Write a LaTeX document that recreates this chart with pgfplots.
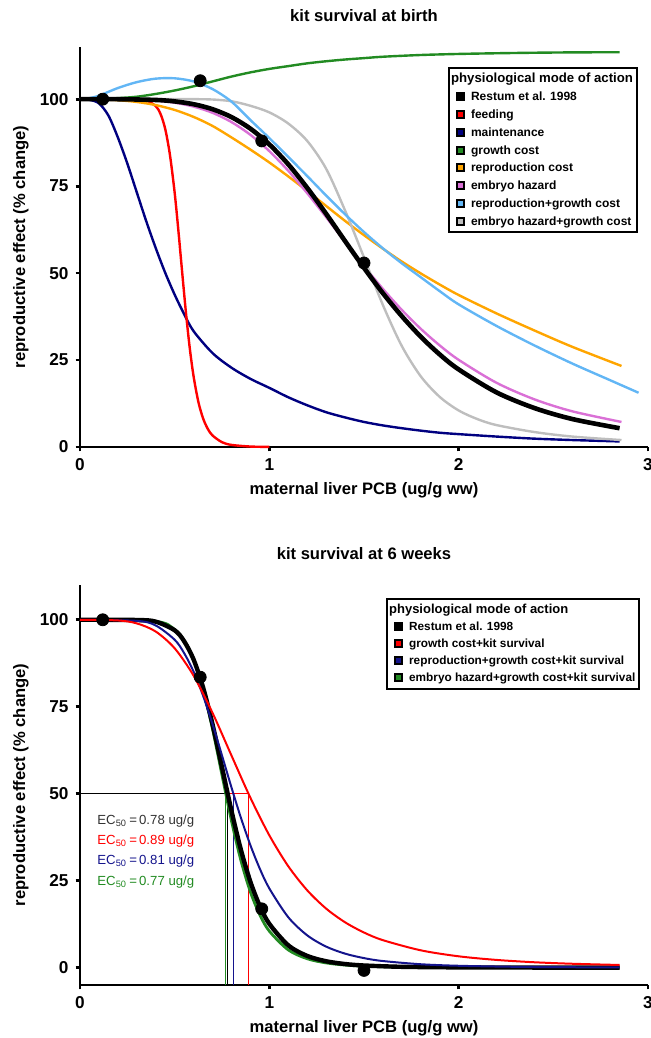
\documentclass[border=0pt]{standalone}
\usepackage{pgfplots}
\pgfplotsset{compat=1.18}
\usepackage{fontspec}
\setmainfont{Liberation Sans}

\definecolor{cfeed}{RGB}{255,0,0}
\definecolor{cmaint}{RGB}{0,0,128}
\definecolor{cgrowth}{RGB}{34,139,34}
\definecolor{crepro}{RGB}{255,165,0}
\definecolor{cembryo}{RGB}{218,112,214}
\definecolor{crg}{RGB}{98,182,245}
\definecolor{ceg}{RGB}{190,190,190}
\definecolor{cnavy}{RGB}{20,20,140}
\definecolor{cdark}{RGB}{50,50,50}

\pgfplotsset{
  sq/.style={legend image code/.code={\path (0pt,0pt) (8pt,0pt);\fill[##1] (2.6pt,-1.75pt) rectangle (6.1pt,1.75pt);}},
  gp/.style={
    scale only axis, width=284pt, height=200pt,
    xmin=0, xmax=3, xtick={0,1,2,3},
    ytick={0,25,50,75,100},
    axis x line*=bottom, axis y line*=left,
    axis line style={line width=1.4pt},
    tick style={black, line width=1.4pt},
    tick align=outside, major tick length=2.2pt,
    /pgf/number format/assume math mode=true,
    tick label style={font=\bfseries\fontsize{8.6}{10}\selectfont},
    label style={font=\bfseries\fontsize{8.3}{10}\selectfont},
    title style={font=\bfseries\fontsize{8.3}{10}\selectfont, at={(axis description cs:0.5,1.048)}, anchor=center},
    xlabel style={at={(axis description cs:0.5,-0.108)}, anchor=center},
    ylabel style={at={(axis description cs:-0.104,0.5)}, anchor=center},
    xlabel={maternal liver PCB (ug/g ww)},
    ylabel={reproductive effect (\% change)},
    clip=false,
    legend cell align=left,
  },
}

\begin{document}
\begin{tikzpicture}

% ---------- kit survival at birth ----------
\begin{axis}[gp, ymin=0, ymax=115, title={kit survival at birth},
  legend style={at={(0.648,0.95)}, anchor=north west, draw=black, line width=1pt, inner sep=1pt,
    font=\bfseries\fontsize{6}{7}\selectfont, row sep=0pt,
    nodes={inner xsep=1pt, inner ysep=1pt, text height=5.45pt, text depth=1.45pt}}]

% maintenance
\addplot[cmaint, line width=1.2pt, smooth, forget plot] coordinates {
(0,100) (0.05,99.8) (0.1,98.8) (0.15,95.3) (0.2,89.0) (0.25,81.5) (0.3,73.2) (0.35,64.9)
(0.4,57.2) (0.45,50.1) (0.5,43.8) (0.55,38.2) (0.6,33.3) (0.7,27.0) (0.8,22.8) (0.9,19.6)
(1.0,17.0) (1.1,14.3) (1.2,12.0) (1.3,10.0) (1.4,8.5) (1.5,7.2) (1.6,6.2) (1.7,5.4)
(1.8,4.7) (1.9,4.1) (2.0,3.7) (2.2,3.0) (2.4,2.4) (2.6,2.0) (2.85,1.6)};
% feeding
\addplot[cfeed, line width=1.2pt, smooth, forget plot] coordinates {
(0,100) (0.3,99.95) (0.35,99.65) (0.4,98.0) (0.425,95.8) (0.45,91.45) (0.475,84.0) (0.5,73.1)
(0.52,62.0) (0.54,50) (0.56,38.4) (0.58,28.3) (0.6,20.3) (0.625,13.0) (0.65,8.24) (0.675,5.2)
(0.7,3.31) (0.75,1.38) (0.8,0.6) (0.9,0.13) (1.0,0.03)};
% growth cost
\addplot[cgrowth, line width=1.2pt, smooth, forget plot] coordinates {
(0,100) (0.1,100.05) (0.2,100.3) (0.3,100.7) (0.4,101.5) (0.5,102.5) (0.6,103.7) (0.7,105.1)
(0.8,106.5) (0.9,107.7) (1.0,108.7) (1.1,109.5) (1.2,110.3) (1.3,110.9) (1.4,111.4) (1.5,111.8)
(1.6,112.2) (1.8,112.7) (2.0,113.0) (2.2,113.2) (2.4,113.35) (2.6,113.45) (2.85,113.5)};
% reproduction cost
\addplot[crepro, line width=1.2pt, smooth, forget plot] coordinates {
(0,100) (0.1,99.95) (0.2,99.7) (0.3,99.2) (0.4,98.3) (0.5,96.9) (0.6,94.9) (0.7,92.3)
(0.8,89.0) (0.9,85.5) (1.0,81.8) (1.1,77.8) (1.2,73.6) (1.3,69.3) (1.4,65.0) (1.5,60.9)
(1.6,57.0) (1.7,53.3) (1.8,49.9) (1.9,46.7) (2.0,43.7) (2.2,38.4) (2.4,33.5) (2.6,28.8) (2.86,23.3)};
% embryo hazard
\addplot[cembryo, line width=1.2pt, smooth, forget plot] coordinates {
(0,100) (0.2,99.98) (0.4,99.59) (0.5,98.98) (0.6,97.87) (0.7,96.08) (0.8,93.41) (0.9,89.75)
(1.0,85.06) (1.1,79.41) (1.2,72.98) (1.3,66.08) (1.4,58.98) (1.5,52.03) (1.6,45.44) (1.7,39.39)
(1.8,33.97) (1.9,29.2) (2.0,25.06) (2.2,18.46) (2.4,13.7) (2.6,10.26) (2.86,7.2)};
% embryo hazard+growth cost
\addplot[ceg, line width=1.2pt, smooth, forget plot] coordinates {
(0,100) (0.4,100) (0.6,100) (0.7,99.9) (0.8,99.4) (0.9,98.1) (1.0,96.2) (1.1,93.0)
(1.2,88.0) (1.3,80.0) (1.4,68.0) (1.5,54.5) (1.6,40.8) (1.7,29.0) (1.8,20.3) (1.9,14.4)
(2.0,10.5) (2.1,8.0) (2.2,6.3) (2.4,4.3) (2.6,3.0) (2.86,2.0)};
% reproduction+growth cost
\addplot[crg, line width=1.2pt, smooth, forget plot] coordinates {
(0,100) (0.05,100.3) (0.1,101.0) (0.2,103.2) (0.3,104.9) (0.4,105.9) (0.5,106.0) (0.6,105.1)
(0.7,102.9) (0.8,99.3) (0.9,94.0) (1.0,88.8) (1.1,83.4) (1.2,77.9) (1.3,72.3) (1.4,66.9)
(1.5,61.8) (1.6,57.1) (1.7,52.8) (1.8,48.8) (1.9,44.8) (2.0,41.0) (2.2,34.8) (2.4,29.2)
(2.6,24.0) (2.8,19.2) (2.95,15.6)};
% Restum et al. 1998
\addplot[black, line width=2.3pt, smooth, forget plot] coordinates {
(0,100) (0.2,99.99) (0.4,99.77) (0.5,99.36) (0.6,98.55) (0.7,97.12) (0.8,94.85) (0.9,91.52)
(1.0,87.0) (1.1,81.27) (1.2,74.5) (1.3,67.04) (1.4,59.2) (1.5,51.5) (1.6,44.2) (1.7,37.6)
(1.8,31.7) (1.9,26.6) (2.0,22.3) (2.2,15.7) (2.4,11.2) (2.6,8.04) (2.85,5.4)};
\addplot[only marks, mark=*, mark size=3pt, black, forget plot] coordinates {
(0.12,100) (0.635,105.3) (0.96,88.0) (1.5,52.9)};

\addlegendimage{empty legend}
\addlegendentry{\hspace{-10pt}\fontsize{6.6}{7}\selectfont physiological mode of action}
\addlegendimage{sq, fill=black}\addlegendentry{Restum et al. 1998}
\addlegendimage{sq, fill=cfeed}\addlegendentry{feeding}
\addlegendimage{sq, fill=cmaint}\addlegendentry{maintenance}
\addlegendimage{sq, fill=cgrowth}\addlegendentry{growth cost}
\addlegendimage{sq, fill=crepro}\addlegendentry{reproduction cost}
\addlegendimage{sq, fill=cembryo}\addlegendentry{embryo hazard}
\addlegendimage{sq, fill=crg}\addlegendentry{reproduction+growth cost}
\addlegendimage{sq, fill=ceg}\addlegendentry{embryo hazard+growth cost}
\end{axis}

% ---------- kit survival at 6 weeks ----------
\begin{axis}[gp, at={(0pt,-269pt)}, ymin=-5, ymax=110, title={kit survival at 6 weeks},
  legend style={at={(0.539,0.9675)}, anchor=north west, draw=black, line width=1pt, inner sep=1pt,
    font=\bfseries\fontsize{5.9}{7}\selectfont, row sep=0pt,
    nodes={inner xsep=1pt, inner ysep=1pt, text height=5.2pt, text depth=1.35pt}}]

% EC50 guide lines
\addplot[black, line width=0.6pt, forget plot] coordinates {(0,50) (0.78,50)};
\addplot[cfeed, line width=0.6pt, forget plot] coordinates {(0.77,50) (0.89,50)};
\addplot[cgrowth, line width=0.6pt, forget plot] coordinates {(0.77,-5) (0.77,50)};
\addplot[black, line width=0.6pt, forget plot] coordinates {(0.78,-5) (0.78,50)};
\addplot[cnavy, line width=0.6pt, forget plot] coordinates {(0.81,-5) (0.81,50)};
\addplot[cfeed, line width=0.6pt, forget plot] coordinates {(0.89,-5) (0.89,50)};

% embryo hazard+growth cost+kit survival
\addplot[cgrowth, line width=1.4pt, smooth, forget plot] coordinates {
(0,100) (0.4,99.54) (0.5,97.18) (0.55,94.04) (0.6,88.55) (0.65,80.04) (0.7,68.6) (0.75,55.37)
(0.8,42.21) (0.85,30.78) (0.9,21.77) (0.95,15.15) (1.0,10.49) (1.1,5.09) (1.2,2.56) (1.3,1.35)
(1.4,0.74) (1.5,0.42) (1.7,0.15) (2.0,0.04) (2.85,0)};
% Restum et al. 1998
\addplot[black, line width=2.2pt, smooth, forget plot] coordinates {
(0,100) (0.3,99.94) (0.4,99.46) (0.5,96.98) (0.55,93.84) (0.6,88.57) (0.65,80.57) (0.7,69.93)
(0.75,57.59) (0.8,45.08) (0.85,33.85) (0.9,24.67) (0.95,17.68) (1.0,12.58) (1.1,6.41) (1.2,3.36)
(1.3,1.83) (1.4,1.03) (1.5,0.61) (1.7,0.23) (2.0,0.07) (2.5,0.01) (2.85,0)};
% reproduction+growth cost+kit survival
\addplot[cnavy, line width=1pt, smooth, forget plot] coordinates {
(0,100) (0.3,99.69) (0.4,98.36) (0.5,94.26) (0.55,90.42) (0.6,85.08) (0.65,78.18) (0.7,69.99)
(0.75,60.98) (0.8,51.8) (0.85,43.05) (0.9,35.19) (0.95,28.4) (1.0,22.76) (1.1,14.49) (1.2,9.28)
(1.3,6.04) (1.4,4.02) (1.5,2.73) (1.6,1.89) (1.8,0.97) (2.0,0.53) (2.3,0.23) (2.6,0.11) (2.85,0.07)};
% growth cost+kit survival
\addplot[cfeed, line width=1pt, smooth, forget plot] coordinates {
(0,100) (0.2,99.81) (0.3,98.96) (0.4,96.62) (0.5,91.8) (0.6,83.93) (0.7,73.23) (0.8,60.98)
(0.9,48.83) (1.0,38.03) (1.1,29.15) (1.2,22.23) (1.3,16.97) (1.4,13.03) (1.5,10.09) (1.6,7.89)
(1.8,4.97) (2.0,3.25) (2.2,2.21) (2.4,1.54) (2.6,1.11) (2.85,0.76)};
\addplot[only marks, mark=*, mark size=3pt, black, forget plot] coordinates {
(0.12,100) (0.635,83.5) (0.96,16.9) (1.5,-0.8)};

\node[anchor=west, inner sep=0pt, text=cdark, font=\fontsize{6.6}{8}\selectfont] at (axis cs:0.09,42.1) {EC\textsubscript{50}\,=\,0.78 ug/g};
\node[anchor=west, inner sep=0pt, text=cfeed, font=\fontsize{6.6}{8}\selectfont] at (axis cs:0.09,36.3) {EC\textsubscript{50}\,=\,0.89 ug/g};
\node[anchor=west, inner sep=0pt, text=cnavy, font=\fontsize{6.6}{8}\selectfont] at (axis cs:0.09,30.5) {EC\textsubscript{50}\,=\,0.81 ug/g};
\node[anchor=west, inner sep=0pt, text=cgrowth, font=\fontsize{6.6}{8}\selectfont] at (axis cs:0.09,24.5) {EC\textsubscript{50}\,=\,0.77 ug/g};

\addlegendimage{empty legend}
\addlegendentry{\hspace{-10pt}\fontsize{6.5}{7}\selectfont physiological mode of action}
\addlegendimage{sq, fill=black}\addlegendentry{Restum et al. 1998}
\addlegendimage{sq, fill=cfeed}\addlegendentry{growth cost+kit survival}
\addlegendimage{sq, fill=cnavy}\addlegendentry{reproduction+growth cost+kit survival}
\addlegendimage{sq, fill=cgrowth}\addlegendentry{embryo hazard+growth cost+kit survival}
\end{axis}

\pgfresetboundingbox
\path[use as bounding box] (-40pt,-295.5pt) rectangle (285.5pt,223.5pt);
\end{tikzpicture}
\end{document}
